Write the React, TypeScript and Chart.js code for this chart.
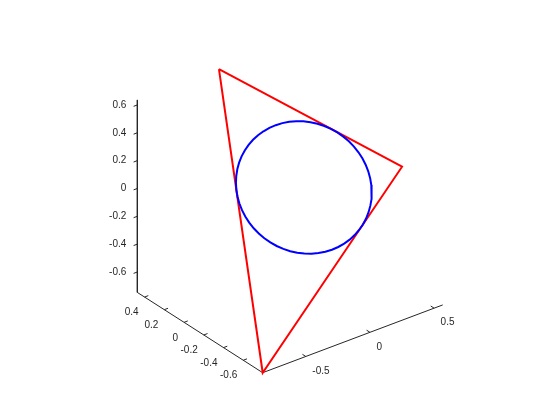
import { useEffect, useRef } from "react"
import { Chart, registerables } from "chart.js"
import type { Plugin } from "chart.js"

Chart.register(...registerables)

// Triangle vertices (A, B, C)
const VERTEX_X = [-0.2, 0.567, -0.836]
const VERTEX_Y = [0.473, -0.385, -0.797]
const VERTEX_Z = [0.636, 0.059, -0.747]

// Tick values and labels
const X_TICKS = [-0.5, 0, 0.5]
const X_TICK_LABELS = ["-0.5", "0", "0.5"]
const Y_TICKS = [-0.6, -0.4, -0.2, 0, 0.2, 0.4]
const Y_TICK_LABELS = ["-0.6", "-0.4", "-0.2", "0", "0.2", "0.4"]
const Z_TICKS = [-0.6, -0.4, -0.2, 0, 0.2, 0.4, 0.6]
const Z_TICK_LABELS = ["-0.6", "-0.4", "-0.2", "0", "0.2", "0.4", "0.6"]

const CIRCLE_SEGMENTS = 60

// View: where the (xmin, ymin, zmin) corner lands and screen step per data unit
const CORNER = { x: 262.7, y: 372.7 }
const EX = { x: 128.3, y: -48.3 }
const EY = { x: -98.7, y: -63.2 }
const EZ = { x: 0, y: -139.2 }

const AXIS_COLOR = "#262626"
const FONT = "10px 'Liberation Sans', Arial, Helvetica, sans-serif"

const xLim = [Math.min(...VERTEX_X), Math.max(...VERTEX_X)]
const yLim = [Math.min(...VERTEX_Y), Math.max(...VERTEX_Y)]
const zLim = [Math.min(...VERTEX_Z), Math.max(...VERTEX_Z)]

type V3 = [number, number, number]

function project(x: number, y: number, z: number) {
  const u = x - xLim[0]
  const v = y - yLim[0]
  const w = z - zLim[0]
  return {
    x: CORNER.x + u * EX.x + v * EY.x + w * EZ.x,
    y: CORNER.y + u * EX.y + v * EY.y + w * EZ.y,
  }
}

const sub = (a: V3, b: V3): V3 => [a[0] - b[0], a[1] - b[1], a[2] - b[2]]
const len = (a: V3) => Math.hypot(a[0], a[1], a[2])
const cross = (a: V3, b: V3): V3 => [
  a[1] * b[2] - a[2] * b[1],
  a[2] * b[0] - a[0] * b[2],
  a[0] * b[1] - a[1] * b[0],
]
const unit = (a: V3): V3 => {
  const l = len(a)
  return [a[0] / l, a[1] / l, a[2] / l]
}

// incircle of the triangle
function incircle() {
  const P: V3[] = VERTEX_X.map((x, i) => [x, VERTEX_Y[i], VERTEX_Z[i]] as V3)
  const [A, B, C] = P
  const a = len(sub(B, C))
  const b = len(sub(C, A))
  const c = len(sub(A, B))
  const p = a + b + c
  const center: V3 = [0, 1, 2].map((k) => (a * A[k] + b * B[k] + c * C[k]) / p) as V3
  const area = len(cross(sub(B, A), sub(C, A))) / 2
  const r = area / (p / 2)
  const n = unit(cross(sub(B, A), sub(C, A)))
  const e1 = unit(sub(A, center))
  const e2 = cross(n, e1)
  const pts = []
  for (let i = 0; i <= CIRCLE_SEGMENTS; i++) {
    const t = (2 * Math.PI * i) / CIRCLE_SEGMENTS
    const q = [0, 1, 2].map((k) => center[k] + r * (Math.cos(t) * e1[k] + Math.sin(t) * e2[k]))
    pts.push(project(q[0], q[1], q[2]))
  }
  return pts
}

const axesPlugin: Plugin = {
  id: "axes3d",
  beforeDatasetsDraw(chart) {
    const { ctx } = chart
    const sx = chart.scales.x
    const sy = chart.scales.y
    const toPx = (p: { x: number; y: number }) => ({
      x: sx.getPixelForValue(p.x),
      y: sy.getPixelForValue(p.y),
    })
    const exLen = Math.hypot(EX.x, EX.y)
    const eyLen = Math.hypot(EY.x, EY.y)
    const dirX = { x: EX.x / exLen, y: EX.y / exLen }
    const dirY = { x: EY.x / eyLen, y: EY.y / eyLen }
    const tickLen = 4

    ctx.save()
    ctx.strokeStyle = AXIS_COLOR
    ctx.fillStyle = AXIS_COLOR
    ctx.lineWidth = 1
    ctx.font = FONT
    ctx.textBaseline = "middle"

    const tick = (p: { x: number; y: number }, d: { x: number; y: number }) => {
      ctx.beginPath()
      ctx.moveTo(p.x, p.y)
      ctx.lineTo(p.x + d.x * tickLen, p.y + d.y * tickLen)
      ctx.stroke()
    }

    // z axis: at x = xmin, y = ymax
    ctx.textAlign = "right"
    Z_TICKS.forEach((z, i) => {
      const p = toPx(project(xLim[0], yLim[1], z))
      tick(p, { x: -dirX.x, y: -dirX.y })
      ctx.fillText(Z_TICK_LABELS[i], p.x - 11, p.y)
    })

    // y axis: at x = xmin, z = zmin
    ctx.textAlign = "right"
    Y_TICKS.forEach((y, i) => {
      const p = toPx(project(xLim[0], y, zLim[0]))
      tick(p, dirX)
      ctx.fillText(Y_TICK_LABELS[i], p.x - 6, p.y + 15.5)
    })

    // x axis: at y = ymin, z = zmin
    ctx.textAlign = "left"
    X_TICKS.forEach((x, i) => {
      const p = toPx(project(x, yLim[0], zLim[0]))
      tick(p, dirY)
      ctx.fillText(X_TICK_LABELS[i], p.x + 6.5, p.y + 14.5)
    })
    ctx.restore()
  },
}

export default function App() {
  const chartRef = useRef<HTMLCanvasElement>(null)
  const chartInstance = useRef<Chart | null>(null)

  useEffect(() => {
    document.body.style.margin = "0"
    if (!chartRef.current) return
    if (chartInstance.current) chartInstance.current.destroy()

    const axisLine = [
      project(xLim[0], yLim[1], zLim[1]),
      project(xLim[0], yLim[1], zLim[0]),
      project(xLim[0], yLim[0], zLim[0]),
      project(xLim[1], yLim[0], zLim[0]),
    ]
    const triangle = [0, 1, 2, 0].map((i) => project(VERTEX_X[i], VERTEX_Y[i], VERTEX_Z[i]))
    const circle = incircle()

    chartInstance.current = new Chart(chartRef.current, {
      type: "scatter",
      data: {
        datasets: [
          {
            label: "circle",
            data: circle,
            showLine: true,
            borderColor: "#0000ff",
            borderWidth: 2,
            pointRadius: 0,
            order: 0,
          },
          {
            label: "triangle",
            data: triangle,
            showLine: true,
            borderColor: "#ff0000",
            borderWidth: 2,
            borderJoinStyle: "miter",
            pointRadius: 0,
            order: 1,
          },
          {
            label: "axes",
            data: axisLine,
            showLine: true,
            borderColor: AXIS_COLOR,
            borderWidth: 1,
            borderJoinStyle: "miter",
            pointRadius: 0,
            order: 2,
          },
        ],
      },
      options: {
        animation: false,
        responsive: true,
        maintainAspectRatio: false,
        layout: { padding: 0 },
        plugins: {
          legend: { display: false },
          tooltip: { enabled: false },
        },
        scales: {
          x: { type: "linear", min: 0, max: 560, display: false },
          y: { type: "linear", min: 0, max: 420, reverse: true, display: false },
        },
      },
      plugins: [axesPlugin],
    })

    return () => {
      if (chartInstance.current) {
        chartInstance.current.destroy()
        chartInstance.current = null
      }
    }
  }, [])

  return (
    <div style={{ width: 560, height: 420, background: "#ffffff" }}>
      <canvas ref={chartRef} aria-label="Triangle with inscribed circle"></canvas>
    </div>
  )
}
